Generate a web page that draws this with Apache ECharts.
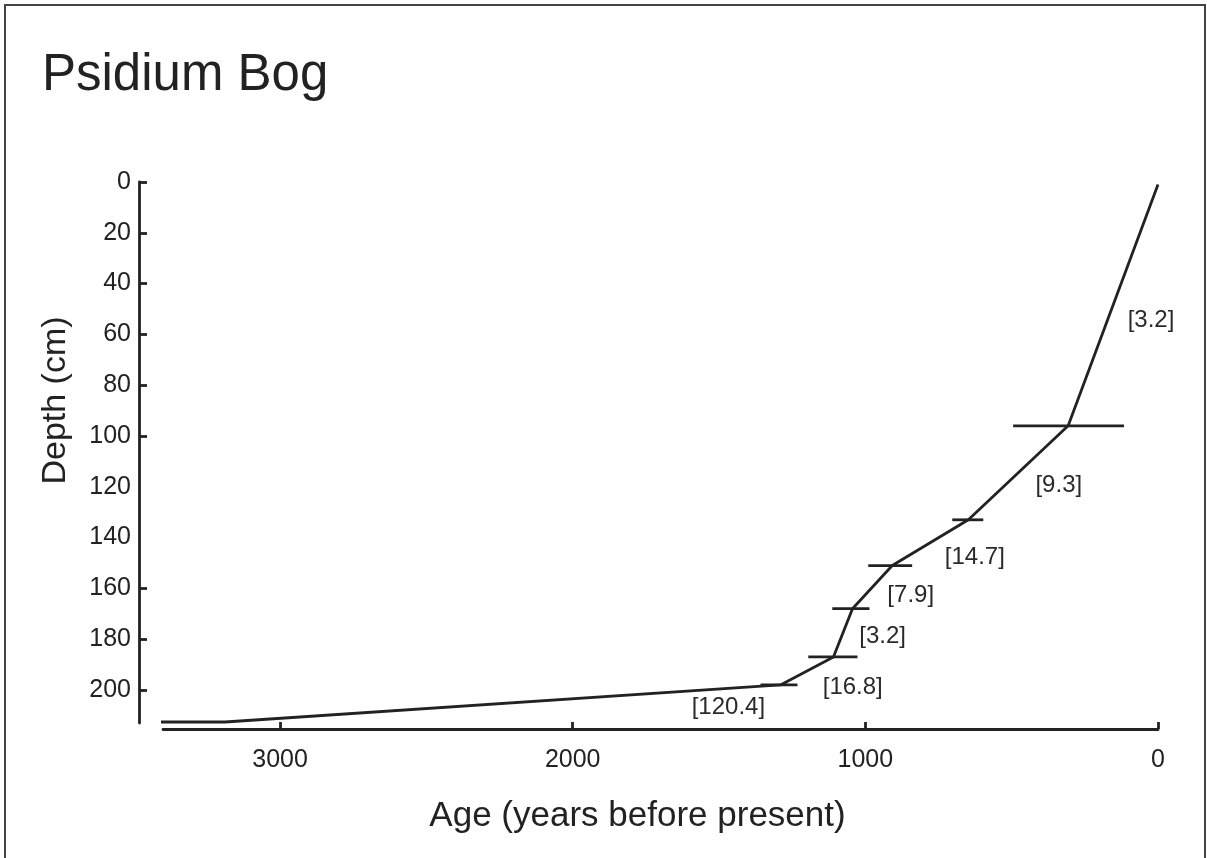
<!DOCTYPE html>
<html>
<head>
<meta charset="utf-8">
<title>Psidium Bog</title>
<script src="https://cdn.jsdelivr.net/npm/echarts@6/dist/echarts.min.js"></script>
<style>
    html, body { margin: 0; padding: 0; background: #fff; }
    #chart { width: 1207px; height: 858px; }
</style>
</head>
<body>
<div id="chart"></div>
<script>
    // age-depth model, Psidium Bog
    const ageTicks = [0, 1000, 2000, 3000];
    const depthLabels = [0, 20, 40, 60, 80, 100, 120, 140, 160, 180, 200];
    const depthTickMarks = [0, 20, 40, 60, 80, 100, 160, 180, 200];

    // model line: [age (yr BP), depth (cm)]
    const modelLine = [
        [0, 1], [307, 96], [648, 133], [908, 151], [1044, 168],
        [1109, 187], [1290, 198], [3188, 212.6], [3410, 212.6]
    ];

    // dated levels with age ranges
    const dateDepth = [96, 133, 151, 168, 187, 198];
    const dateAgeMin = [116, 597, 840, 986, 1027, 1232];
    const dateAgeMax = [495, 703, 990, 1113, 1195, 1358];

    // accumulation rate labels
    const rateText = ['[3.2]', '[9.3]', '[14.7]', '[7.9]', '[3.2]', '[16.8]', '[120.4]'];
    const rateAge = [24, 339, 626, 845, 941, 1043, 1468];
    const rateDepth = [54.3, 119.3, 147.6, 162.6, 179, 198.8, 206.7];

    const ink = '#222';
    const font = 'Liberation Sans, Arial, sans-serif';

    const bars = dateDepth.map((d, i) => [dateAgeMin[i], dateAgeMax[i], d]);
    const labels = rateText.map((t, i) => [rateAge[i], rateDepth[i], t]);

    const chart = echarts.init(document.getElementById('chart'));
    const option = {
        animation: false,
        backgroundColor: '#fff',
        title: {
            text: 'Psidium Bog',
            left: 37,
            top: 45,
            textStyle: { fontFamily: font, fontSize: 51, fontWeight: 'normal', color: ink }
        },
        graphic: [{
            type: 'rect',
            shape: { x: 5, y: 5, width: 1200, height: 900 },
            style: { fill: 'none', stroke: '#444', lineWidth: 2 }
        }],
        grid: { left: 163, right: 49, top: 182, bottom: 135 },
        xAxis: {
            type: 'value',
            position: 'bottom',
            inverse: true,
            min: 0,
            max: 3400,
            interval: 1000,
            offset: 6,
            name: 'Age (years before present)',
            nameLocation: 'middle',
            nameGap: 70,
            nameTextStyle: { fontFamily: font, fontSize: 35, color: ink, padding: [0, 46, 0, 0] },
            axisLine: { onZero: false, lineStyle: { color: ink, width: 2.8 } },
            axisTick: { inside: true, length: 7, customValues: ageTicks, lineStyle: { color: ink, width: 2.8 } },
            axisLabel: {
                customValues: ageTicks,
                formatter: v => String(v),
                margin: 19,
                fontFamily: font,
                fontSize: 25,
                color: ink
            },
            splitLine: { show: false }
        },
        yAxis: {
            type: 'value',
            position: 'left',
            inverse: true,
            min: 0,
            max: 213,
            offset: 24,
            name: 'Depth (cm)',
            nameLocation: 'middle',
            nameRotate: 90,
            nameGap: 66,
            nameTextStyle: { fontFamily: font, fontSize: 34, color: ink, padding: [0, 0, 0, 104] },
            axisLine: { onZero: false, lineStyle: { color: ink, width: 2.8 } },
            axisTick: { inside: true, length: 8, customValues: depthTickMarks, lineStyle: { color: ink, width: 2.8 } },
            axisLabel: { customValues: depthLabels, margin: 8, fontFamily: font, fontSize: 25, color: ink },
            splitLine: { show: false }
        },
        series: [
            {
                type: 'line',
                data: modelLine,
                symbol: 'none',
                clip: false,
                lineStyle: { color: ink, width: 2.8 }
            },
            {
                // age range bars at the dated levels
                type: 'custom',
                data: bars,
                encode: { x: [0, 1], y: 2 },
                clip: false,
                renderItem: function(params, api) {
                    const a = api.coord([api.value(0), api.value(2)]);
                    const b = api.coord([api.value(1), api.value(2)]);
                    return {
                        type: 'line',
                        shape: { x1: a[0], y1: a[1], x2: b[0], y2: b[1] },
                        style: { stroke: ink, lineWidth: 2.8 }
                    };
                }
            },
            {
                // accumulation rate text
                type: 'custom',
                data: labels,
                encode: { x: 0, y: 1 },
                clip: false,
                renderItem: function(params, api) {
                    const p = api.coord([api.value(0), api.value(1)]);
                    return {
                        type: 'text',
                        x: p[0],
                        y: p[1],
                        style: {
                            text: labels[params.dataIndex][2],
                            align: 'center',
                            verticalAlign: 'middle',
                            font: '24px ' + font,
                            fill: '#2a2a2a'
                        }
                    };
                }
            }
        ]
    };
    chart.setOption(option);
</script>
</body>
</html>
